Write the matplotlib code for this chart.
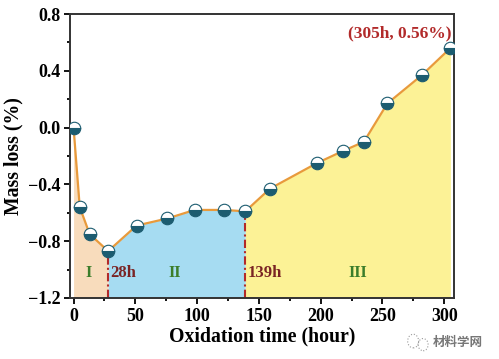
import numpy as np
import matplotlib.pyplot as plt
from matplotlib.ticker import MultipleLocator
from matplotlib.patches import Ellipse

# Oxidation mass-loss data
hours = [0, 5, 13, 28, 51, 76, 98, 122, 139, 159, 197, 218, 235, 254, 282, 305]
mass_loss = [0.0, -0.56, -0.75, -0.87, -0.69, -0.64, -0.58, -0.58, -0.59,
             -0.43, -0.25, -0.165, -0.10, 0.17, 0.37, 0.56]

stage_edges = [28, 139]
stage_labels = ['I', 'II', 'III']
stage_label_x = [12, 82, 230]
stage_colors = ['#f8dcbc', '#a6dcf2', '#fcf296']

plt.rcParams['font.family'] = ['Liberation Serif', 'DejaVu Serif']
plt.rcParams['font.weight'] = 'bold'

fig = plt.figure(figsize=(4.99, 3.59), dpi=100)
ax = fig.add_axes([0.140, 0.170, 0.770, 0.791])

x = np.array(hours, dtype=float)
y = np.array(mass_loss)

# fill the three stages under the curve
bounds = [x[0]] + stage_edges + [x[-1]]
for i in range(3):
    lo, hi = bounds[i], bounds[i + 1]
    xs = np.linspace(lo, hi, 200)
    ys = np.interp(xs, x, y)
    ax.fill_between(xs, -1.2, ys, color=stage_colors[i], lw=0, zorder=1)

for e in stage_edges:
    ax.plot([e, e], [-1.2, np.interp(e, x, y)], color='#b22a2a', lw=1.5,
            ls=(0, (4, 1.5, 1, 1.5)), zorder=2)

ax.plot(x, y, color='#e89a3c', lw=1.6, zorder=3,
        marker='o', markersize=9, fillstyle='bottom',
        markerfacecolor='#1c5c70', markerfacecoloralt='white',
        markeredgecolor='#1c5c70', markeredgewidth=0.8)

for lab, lx in zip(stage_labels, stage_label_x):
    ax.text(lx, -1.025, lab, color='#3b7d2a', fontsize=11.5, fontweight='bold',
            ha='center', va='center', zorder=4)
ax.text(30, -1.025, '28h', color='#7a2424', fontsize=12, fontweight='bold',
        ha='left', va='center', zorder=4)
ax.text(141, -1.025, '139h', color='#7a2424', fontsize=12, fontweight='bold',
        ha='left', va='center', zorder=4)
ax.text(306, 0.665, '(305h, 0.56%)', color='#b22a2a', fontsize=12.5,
        fontweight='bold', ha='right', va='center', zorder=4)

ax.set_xlim(-3, 308)
ax.set_ylim(-1.2, 0.8)
ax.xaxis.set_major_locator(MultipleLocator(50))
ax.xaxis.set_minor_locator(MultipleLocator(25))
ax.yaxis.set_major_locator(MultipleLocator(0.4))
ax.yaxis.set_minor_locator(MultipleLocator(0.2))
ax.tick_params(which='both', direction='out', width=1.3, labelsize=13)
ax.tick_params(which='major', length=4, pad=3)
ax.tick_params(which='minor', length=2.5)
for s in ax.spines.values():
    s.set_linewidth(1.4)
    s.set_color('#333333')

ax.set_xlabel('Oxidation time (hour)', fontsize=14.2, fontweight='bold', labelpad=1)
ax.set_ylabel('Mass loss (%)', fontsize=14.2, fontweight='bold', labelpad=3)

# watermark
fig.text(0.868, 0.045, '材料学网', fontsize=9, color='#777777',
         family=['Noto Sans CJK SC', 'DejaVu Sans'], ha='left', va='center')
fig.patches.append(Ellipse((0.828, 0.050), 0.022, 0.038, transform=fig.transFigure,
                           fill=False, ec='#999999', lw=0.8, ls=':'))
fig.patches.append(Ellipse((0.848, 0.040), 0.020, 0.034, transform=fig.transFigure,
                           fill=False, ec='#999999', lw=0.8, ls=':'))

plt.savefig('out.png', dpi=100)
